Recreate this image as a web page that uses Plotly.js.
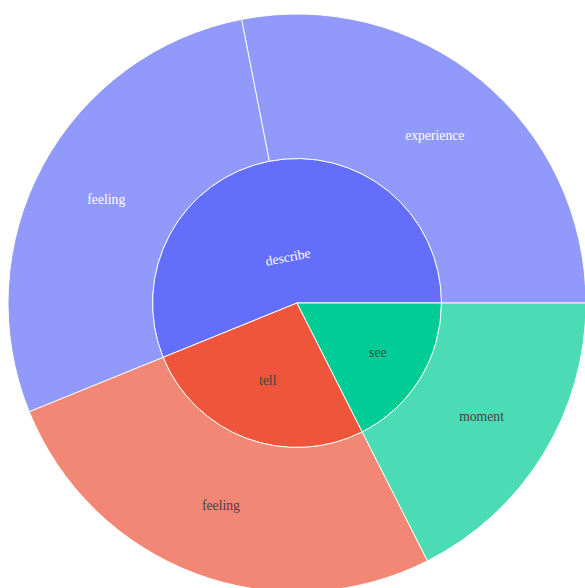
<!DOCTYPE html>
<html><head><meta charset="utf-8">
<script src="https://cdn.plot.ly/plotly-3.0.1.min.js"></script>
<style>html,body{margin:0;padding:0;overflow:hidden;background:#fff;}</style>
</head><body><div id="chart"></div>
<script>
const ids = ["describe", "tell", "see", "describe/experience", "describe/feeling", "tell/feeling", "see/moment"];
const labels = ["describe", "tell", "see", "experience", "feeling", "feeling", "moment"];
const parents = ["", "", "", "describe", "describe", "tell", "see"];
const values = [32, 15, 10, 16, 16, 15, 10];
const colorway = ["#636efa", "#EF553B", "#00cc96", "#ab63fa", "#FFA15A", "#19d3f3", "#FF6692", "#B6E880", "#FF97FF", "#FECB52"];

Plotly.newPlot("chart", [{
  type: "sunburst",
  ids: ids,
  labels: labels,
  parents: parents,
  values: values,
  branchvalues: "total",
  textfont: {family: "Liberation Serif", size: 13.7},
  marker: {line: {color: "#ffffff", width: 1}}
}], {
  width: 586, height: 592,
  margin: {l: 8, r: 0, t: 14, b: 0},
  paper_bgcolor: "#ffffff",
  colorway: colorway,
  font: {family: "Liberation Serif"},
  showlegend: false
}, {displayModeBar: false});
</script></body></html>
